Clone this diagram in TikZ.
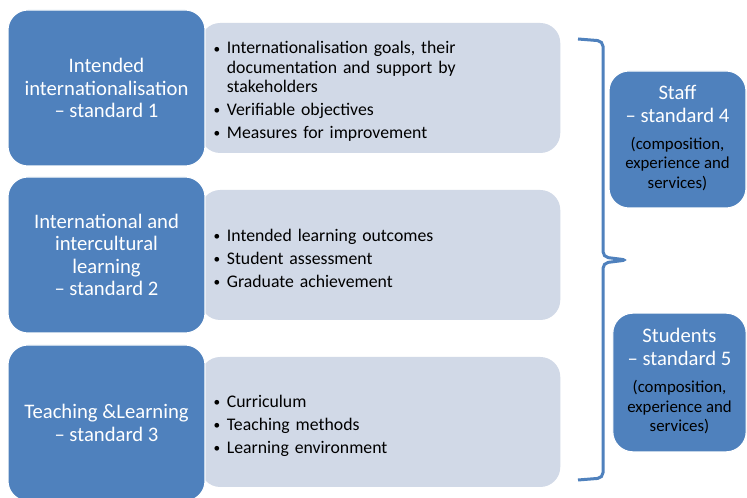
\documentclass[tikz,border=0pt]{standalone}
\usepackage{fontspec}
\setmainfont{Carlito}
\usepackage{xcolor}
\usepackage{tikz}
\definecolor{stdblue}{HTML}{4F81BD}
\definecolor{listgrey}{HTML}{D1D9E7}
\newcommand{\pnt}[1]{\par\hangindent=0.75em\hangafter=1\noindent
  \makebox[0.75em][l]{\raisebox{0.6pt}{\fontsize{10}{10}\selectfont\textbullet}}#1}
\newcommand{\gap}{\par\vspace{2.6pt}}
\newcommand{\notes}[1]{\color{black}\fontsize{12.6}{14.3}\selectfont
  \begin{tabular}[t]{@{}c@{}}#1\end{tabular}}
\tikzset{
  stdbox/.style={rectangle, rounded corners=15pt, fill=stdblue, draw=white, line width=0.8pt,
    text=white, align=center, font=\fontsize{15.5}{16.9}\selectfont,
    minimum width=147.75pt, minimum height=117pt, inner sep=2pt},
  listbox/.style={rectangle, rounded corners=15pt, fill=listgrey, anchor=west,
    text width=250pt, inner xsep=10pt, minimum height=97.5pt,
    font=\fontsize{13.3}{14.6}\selectfont},
  sidebox/.style={rectangle, rounded corners=15pt, fill=stdblue, draw=white, line width=0.8pt,
    text=white, align=center, font=\fontsize{15.5}{16.9}\selectfont, inner sep=2pt},
  brace/.style={draw=stdblue, line width=2.25pt, rounded corners=4pt},
}

\begin{document}
\begin{tikzpicture}[x=0.75pt,y=-0.75pt]
\useasboundingbox (0,0) rectangle (747,498);
\fill[white] (0,0) rectangle (747,498);

\node[listbox] (goals) at (200,88) {\raggedright
  \pnt{Internationalisation goals, their\newline documentation and support by\newline stakeholders}\gap
  \pnt{Verifiable objectives}\gap
  \pnt{Measures for improvement}};
\node[listbox] (outcomes) at (200,255) {\raggedright
  \pnt{Intended learning outcomes}\gap
  \pnt{Student assessment}\gap
  \pnt{Graduate achievement}};
\node[listbox] (teaching) at (200,422) {\raggedright
  \pnt{Curriculum}\gap
  \pnt{Teaching methods}\gap
  \pnt{Learning environment}};

\node[stdbox] (std1) at (106.5,88) {Intended\\ internationalisation\\ -- standard 1};
\node[stdbox] (std2) at (106.5,255) {International and\\ intercultural\\ learning\\ -- standard 2};
\node[stdbox] (std3) at (106.5,423) {Teaching \&Learning\\ -- standard 3};

\draw[brace] (578,39) -- (603,41) -- (603,257) -- (627,260) -- (603,263) -- (603,478) -- (578,480);

\node[sidebox, minimum width=102.75pt, minimum height=102.75pt] (staff) at (677.5,139.5)
  {Staff\\ -- standard 4\\[4pt] \notes{(composition,\\ experience and\\ services)}};
\node[sidebox, minimum width=100pt, minimum height=104pt] (students) at (679.5,382.5)
  {Students\\ -- standard 5\\[4pt] \notes{(composition,\\ experience and\\ services)}};
\end{tikzpicture}
\end{document}
